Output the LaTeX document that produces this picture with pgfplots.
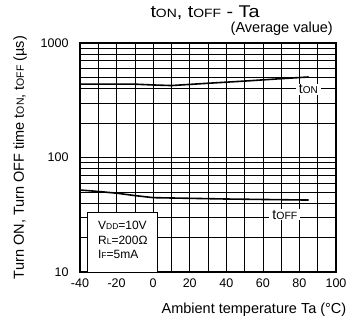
\documentclass[border=0pt]{standalone}
\usepackage{pgfplots}
\pgfplotsset{compat=1.18}
\usepackage{fontspec}
\setmainfont{Liberation Sans}
\newcommand{\fs}[1]{\fontsize{#1}{#1}\selectfont}
\begin{document}
\begin{tikzpicture}
\begin{axis}[
  scale only axis, width=256pt, height=229pt,
  xmin=-40, xmax=100, ymin=10, ymax=1000, ymode=log,
  xtick={-40,-20,...,100}, minor x tick num=1,
  ytick={10,100,1000}, yticklabels={10,100,1000},
  grid=both,
  major grid style={black, line width=0.7pt},
  minor grid style={black, line width=0.7pt},
  major tick length=0pt, minor tick length=0pt,
  axis line style={line width=1.6pt},
  tick label style={font=\fs{12.5}},
  xticklabel style={yshift=-3pt},
  yticklabel style={xshift=-8pt},
  /pgf/number format/assume math mode=true,
  clip=false,
]
\addplot[black, line width=1.6pt] coordinates {(-40,438) (-20,438) (-10,437) (0,430) (10,425) (30,445) (50,465) (70,488) (85,505)};
\addplot[black, line width=1.6pt] coordinates {(-40,52) (-30,50.5) (-20,48.8) (-10,46.5) (0,44.6) (20,44) (40,43.4) (60,43) (85,42.5)};
\node[fill=white, inner xsep=3pt, inner ysep=1pt, anchor=base west] at (axis cs:78,359) {\fs{14}t\fs{10}ON};
\node[fill=white, inner xsep=3pt, inner ysep=1pt, anchor=base west] at (axis cs:63.5,29) {\fs{14}t\fs{10.5}OFF};
\draw[black, line width=0.8pt, fill=white] (axis cs:-36,10) rectangle (axis cs:2.3,33.2);
\node[anchor=base west, inner sep=0pt, font=\fs{12}] at (axis cs:-30.2,23.3) {V{\fs{8.5}DD}=10V};
\node[anchor=base west, inner sep=0pt, font=\fs{12}] at ([yshift=-14.5pt]axis cs:-30.2,23.3) {R{\fs{8.5}L}=200Ω};
\node[anchor=base west, inner sep=0pt, font=\fs{12}] at ([yshift=-29pt]axis cs:-30.2,23.3) {I{\fs{8.5}F}=5mA};
\node[anchor=base, inner sep=0pt] at ([yshift=25pt,xshift=-3pt]rel axis cs:0.5,1) {\scalebox{1.16}[1]{\fs{17}t\fs{12}ON\fs{17}, t\fs{12}OFF\fs{17} - Ta}};
\node[anchor=base east, inner sep=0pt, font=\fs{14.5}] at ([yshift=10pt,xshift=-3pt]rel axis cs:1,1) {(Average value)};
\node[anchor=base east, inner sep=0pt, font=\fs{14.5}] at ([yshift=-42pt,xshift=10.5pt]rel axis cs:1,0) {Ambient temperature Ta (°C)};
\node[anchor=base, rotate=90, inner sep=0pt] at ([xshift=-56pt]rel axis cs:0,0.5) {\fs{14.5}Turn ON, Turn OFF time t\fs{10.5}ON\fs{14.5}, t\fs{10.5}OFF\fs{14.5} (µs)};
\end{axis}
\pgfresetboundingbox
\path ([xshift=-80pt,yshift=-50pt]current axis.south west) rectangle ([xshift=13pt,yshift=43pt]current axis.north east);
\end{tikzpicture}
\end{document}
